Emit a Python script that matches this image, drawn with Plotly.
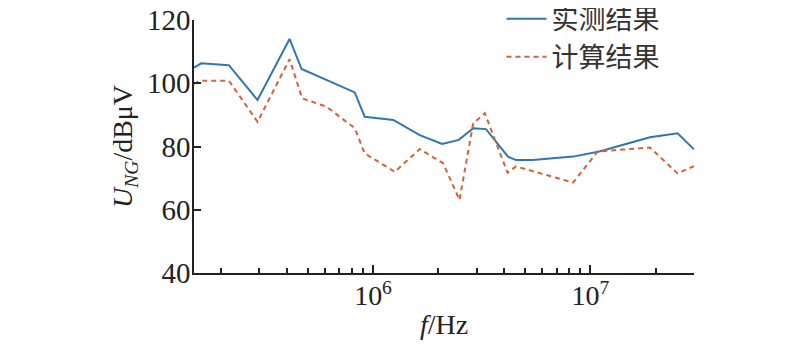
import plotly.graph_objects as go

# Measured (实测结果)
freq_meas = [1.5e5, 1.62e5, 2.17e5, 2.94e5, 4.13e5, 4.69e5, 8.24e5, 9.16e5, 1.24e6,
             1.64e6, 2.08e6, 2.48e6, 2.89e6, 3.31e6, 4.18e6, 4.55e6, 5.43e6, 8.33e6,
             1.10e7, 1.88e7, 2.52e7, 3.0e7]
u_meas = [104.9, 106.3, 105.7, 94.7, 114.0, 104.5, 97.1, 89.4, 88.4,
          83.6, 80.8, 82.1, 85.8, 85.5, 76.8, 75.7, 75.7, 76.8,
          78.4, 82.9, 84.2, 79.1]

# Calculated (计算结果)
freq_calc = [1.5e5, 1.6e5, 2.17e5, 2.94e5, 4.13e5, 4.72e5, 6.10e5, 8.24e5, 9.16e5,
             1.26e6, 1.64e6, 2.10e6, 2.50e6, 2.89e6, 3.27e6, 4.16e6, 4.55e6, 8.33e6,
             1.08e7, 1.88e7, 2.52e7, 3.0e7]
u_calc = [99.8, 100.8, 100.8, 87.8, 107.6, 95.2, 92.6, 85.8, 77.8,
          72.0, 79.2, 74.7, 63.1, 87.3, 90.5, 71.7, 73.7, 68.6,
          78.4, 79.7, 71.5, 73.8]

x_major = [1e6, 1e7]
x_major_text = ["10<sup>6</sup>", "10<sup>7</sup>"]
x_minor = [2e5, 3e5, 4e5, 5e5, 6e5, 7e5, 8e5, 9e5,
           2e6, 3e6, 4e6, 5e6, 6e6, 7e6, 8e6, 9e6, 2e7, 3e7]
y_ticks = [40, 60, 80, 100, 120]

serif = "Liberation Serif, Times New Roman, serif"
cjk = "Noto Sans CJK SC"

fig = go.Figure()
fig.add_trace(go.Scatter(x=freq_meas, y=u_meas, mode="lines", name="实测结果",
                         line=dict(color="#2f76b3", width=2)))
fig.add_trace(go.Scatter(x=freq_calc, y=u_calc, mode="lines", name="计算结果",
                         line=dict(color="#d2633a", width=2, dash="5px,4px")))

fig.update_layout(
    width=800, height=344,
    margin=dict(l=186, r=114, t=12, b=79, autoexpand=False),
    plot_bgcolor="white", paper_bgcolor="white",
    font=dict(family=serif, size=28, color="#222"),
    showlegend=True,
    legend=dict(x=0.615, y=1.10, xanchor="left", yanchor="top",
                bgcolor="rgba(0,0,0,0)", font=dict(family=cjk, size=27, color="#333"),
                tracegroupgap=0, itemwidth=40),
    xaxis=dict(type="log", range=[5.17609, 7.47712],
               tickvals=x_major, ticktext=x_major_text,
               ticks="inside", ticklen=8, tickwidth=1.5, tickcolor="#222",
               ticklabelstandoff=-3, ticklabeloverflow="allow",
               minor=dict(tickvals=x_minor, ticks="inside", ticklen=5, tickwidth=1.5, tickcolor="#222"),
               showline=True, linecolor="#222", linewidth=1.5, mirror=False,
               showgrid=False, zeroline=False,
               tickfont=dict(family=serif, size=28),
               title=dict(text="<i>f</i>/Hz", font=dict(family=serif, size=28), standoff=4)),
    yaxis=dict(range=[40, 120], tickvals=y_ticks,
               ticks="inside", ticklen=7, tickwidth=1.5, tickcolor="#222",
               ticklabelstandoff=-4, ticklabeloverflow="allow",
               showline=True, linecolor="#222", linewidth=1.5,
               showgrid=False, zeroline=False,
               tickfont=dict(family=serif, size=29),
               title=dict(text="<i>U</i><sub><i>NG</i></sub>/dBμV",
                          font=dict(family=serif, size=28), standoff=6)),
)

fig.write_html("out.html")
